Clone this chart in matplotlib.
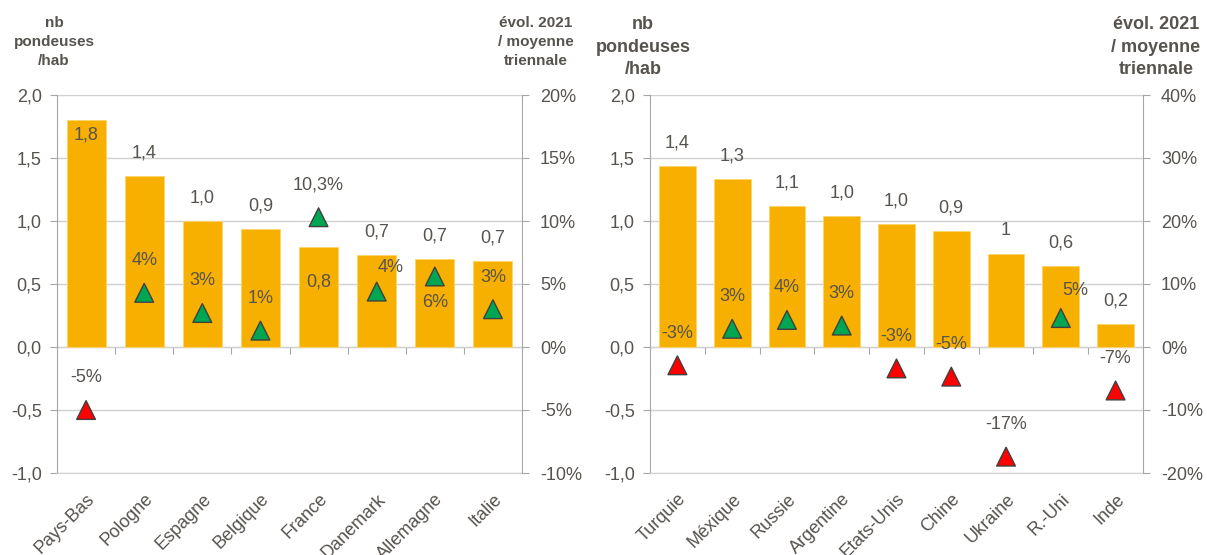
import numpy as np
import matplotlib
matplotlib.use("Agg")
import matplotlib.pyplot as plt
import matplotlib.transforms as mtransforms
from matplotlib.ticker import FuncFormatter, MultipleLocator

plt.rcParams["font.family"] = ["Liberation Sans", "DejaVu Sans"]

# Europe
pays_europe = ["Pays-Bas", "Pologne", "Espagne", "Belgique", "France",
               "Danemark", "Allemagne", "Italie"]
pondeuses_europe = [1.80, 1.36, 1.00, 0.94, 0.79, 0.73, 0.70, 0.68]
evol_europe = [-5.0, 4.3, 2.7, 1.3, 10.3, 4.4, 5.6, 3.0]

# Monde
pays_monde = ["Turquie", "Méxique", "Russie", "Argentine", "Etats-Unis",
              "Chine", "Ukraine", "R.-Uni", "Inde"]
pondeuses_monde = [1.44, 1.33, 1.12, 1.04, 0.98, 0.92, 0.74, 0.64, 0.18]
evol_monde = [-2.9, 2.9, 4.3, 3.4, -3.4, -4.7, -17.4, 4.6, -6.9]

ORANGE = "#F7B000"
VERT = "#00A651"
ROUGE = "#FF0000"
TEXTE = "#57534E"
GRIS = "#A6A6A6"
GRILLE = "#D0D0D0"
PX = 0.72  # points par pixel à 100 dpi


def virgule(v, dec=1):
    return f"{v:.{dec}f}".replace(".", ",")


def panneau(ax, pays, pondeuses, evol, pct_max, bar_labels, evol_labels,
            dy_bar, d_evol):
    x = np.arange(len(pays))
    ax.bar(x, pondeuses, width=0.67, color=ORANGE, edgecolor="#FBD56A",
           linewidth=0.6, zorder=2)
    ax.set_xlim(-0.5, len(pays) - 0.5)
    ax.set_ylim(-1, 2)
    ax.yaxis.set_major_locator(MultipleLocator(0.5))
    ax.yaxis.set_major_formatter(FuncFormatter(lambda v, p: virgule(v)))
    ax.grid(axis="y", color=GRILLE, linewidth=1, zorder=0)
    ax.set_axisbelow(True)
    for s in ["top", "right"]:
        ax.spines[s].set_visible(False)
    ax.spines["left"].set_color(GRIS)
    ax.spines["bottom"].set_color(GRILLE)
    ax.tick_params(axis="y", colors=GRIS, labelcolor=TEXTE, labelsize=13,
                   length=5, pad=6)
    ax.set_xticks(x)
    ax.set_xticklabels(pays, rotation=45, ha="right", va="center",
                       rotation_mode="anchor", color=TEXTE, fontsize=13)
    ax.tick_params(axis="x", length=0, pad=17)
    decal = mtransforms.ScaledTranslation(6 / 100, 0, ax.figure.dpi_scale_trans)
    for lab in ax.get_xticklabels():
        lab.set_transform(lab.get_transform() + decal)

    # axe horizontal à zéro avec graduations entre catégories
    zero = ax.secondary_xaxis(1 / 3)
    zero.set_xticks(x[:-1] + 0.5)
    zero.set_xticklabels([])
    zero.tick_params(axis="x", direction="out", length=5, color=GRIS,
                     bottom=True, top=False)
    zero.spines["bottom"].set_color(GRIS)
    zero.spines["top"].set_visible(False)

    for xi, v, lab, dy in zip(x, pondeuses, bar_labels, dy_bar):
        ax.annotate(lab, (xi, v), xytext=(0, dy * PX), textcoords="offset points",
                    ha="center", va="center", fontsize=13, color=TEXTE, zorder=5)

    ax2 = ax.twinx()
    ax2.set_ylim(-pct_max / 2, pct_max)
    ax2.yaxis.set_major_locator(MultipleLocator(pct_max / 4))
    ax2.yaxis.set_major_formatter(FuncFormatter(lambda v, p: f"{v:.0f}%"))
    for s in ["top", "left", "bottom"]:
        ax2.spines[s].set_visible(False)
    ax2.spines["right"].set_color(GRIS)
    ax2.tick_params(axis="y", colors=GRIS, labelcolor=TEXTE, labelsize=13,
                    length=5, pad=8)
    couleurs = [VERT if e >= 0 else ROUGE for e in evol]
    ax2.scatter(x, evol, marker="^", s=13.5 ** 2, c=couleurs,
                edgecolors="#404040", linewidths=1, zorder=4)
    for i, (xi, e, lab) in enumerate(zip(x, evol, evol_labels)):
        dx, dy = d_evol.get(i, (0, 32))
        ax2.annotate(lab, (xi, e), xytext=(dx * PX, dy * PX),
                     textcoords="offset points", ha="center", va="center",
                     fontsize=13, color=TEXTE, zorder=5)
    return ax2


fig = plt.figure(figsize=(12.07, 5.55), dpi=100)
ax_g = fig.add_axes([57 / 1207, 1 - 473 / 555, 465 / 1207, 378 / 555])
ax_d = fig.add_axes([650 / 1207, 1 - 473 / 555, 493 / 1207, 378 / 555])

labels_europe = [virgule(v) for v in pondeuses_europe]
evol_lab_europe = [f"{virgule(e)}%" if i == 4 else f"{e:.0f}%"
                   for i, e in enumerate(evol_europe)]
dy_europe = [-15, 23, 23, 23, -35, 23, 23, 23]
panneau(ax_g, pays_europe, pondeuses_europe, evol_europe, 20,
        labels_europe, evol_lab_europe, dy_europe,
        {5: (14, 24), 6: (0, -26)})

labels_monde = [virgule(v) for v in pondeuses_monde]
labels_monde[6] = "1"
evol_lab_monde = [f"{e:.0f}%" for e in evol_monde]
panneau(ax_d, pays_monde, pondeuses_monde, evol_monde, 40,
        labels_monde, evol_lab_monde, [23] * len(pays_monde),
        {7: (14, 28)})

titre = dict(ha="center", va="center", fontweight="bold", color=TEXTE,
             linespacing=1.45)
fig.text(54 / 1207, 1 - 42 / 555, "nb\npondeuses\n/hab", fontsize=11, **titre)
fig.text(536 / 1207, 1 - 42 / 555, "évol. 2021\n/ moyenne\ntriennale",
         fontsize=11, **titre)
fig.text(643 / 1207, 1 - 47 / 555, "nb\npondeuses\n/hab", fontsize=13, **titre)
fig.text(1156 / 1207, 1 - 47 / 555, "évol. 2021\n/ moyenne\ntriennale",
         fontsize=13, **titre)

fig.savefig("out.png", dpi=100)
